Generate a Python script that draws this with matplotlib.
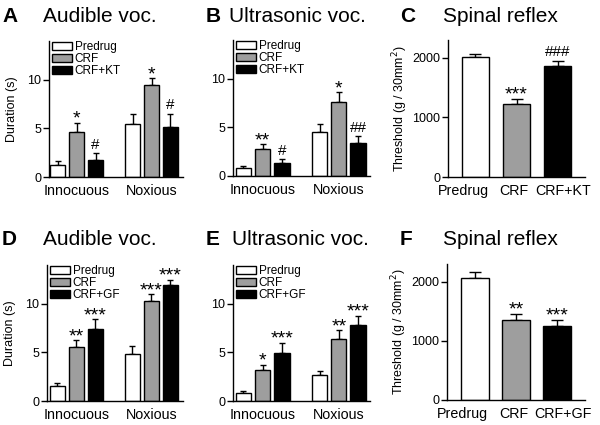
import numpy as np
import matplotlib
matplotlib.use("Agg")
import matplotlib.pyplot as plt
import matplotlib.transforms as mtransforms
from matplotlib.patches import Patch

plt.rcParams['font.family'] = ['Liberation Sans', 'DejaVu Sans']

# data
groups = ["Innocuous", "Noxious"]
colors = ["white", "#9e9e9e", "black"]

a_means = [[1.25, 4.6, 1.7], [5.45, 9.45, 5.1]]
a_errs = [[0.4, 1.0, 0.75], [1.05, 0.7, 1.4]]
a_marks = [["", "*", "#"], ["", "*", "#"]]

b_means = [[0.85, 2.75, 1.3], [4.55, 7.65, 3.42]]
b_errs = [[0.18, 0.5, 0.4], [0.85, 0.95, 0.7]]
b_marks = [["", "**", "#"], ["", "*", "##"]]

c_labels = ["Predrug", "CRF", "CRF+KT"]
c_means = [2010, 1230, 1860]
c_errs = [62, 85, 95]
c_marks = ["", "***", "###"]

d_means = [[1.55, 5.57, 7.42], [4.81, 10.3, 11.9]]
d_errs = [[0.27, 0.68, 1.0], [0.9, 0.7, 0.6]]
d_marks = [["", "**", "***"], ["", "***", "***"]]

e_means = [[0.85, 3.2, 4.98], [2.66, 6.42, 7.85]]
e_errs = [[0.2, 0.52, 1.0], [0.45, 0.85, 0.9]]
e_marks = [["", "*", "***"], ["", "**", "***"]]

f_labels = ["Predrug", "CRF", "CRF+GF"]
f_means = [2056, 1346, 1251]
f_errs = [113, 107, 101]
f_marks = ["", "**", "***"]

W, H = 600, 425


def px_axes(fig, left, right, bottom, top):
    return fig.add_axes([left / W, 1 - bottom / H, (right - left) / W, (bottom - top) / H])


def style_axes(ax):
    for s in ["top", "right"]:
        ax.spines[s].set_visible(False)
    for s in ["left", "bottom"]:
        ax.spines[s].set_linewidth(1.0)
    ax.tick_params(axis='y', direction='out', length=4, width=1.0, labelsize=9, pad=1.5)
    ax.tick_params(axis='x', length=0, labelsize=10.3, pad=5)


def put_mark(ax, x, y, text):
    if text == "":
        return
    if "*" in text:
        ax.annotate(text, (x, y), xytext=(0, -3.5), textcoords='offset points',
                    ha='center', va='bottom', fontsize=14)
    else:
        ax.annotate(text, (x, y), xytext=(0, 1), textcoords='offset points',
                    ha='center', va='bottom', fontsize=11)


def grouped_panel(ax, means, errs, marks, legend_names, xlim):
    offs = [-0.253, 0, 0.253]
    width = 0.2
    handles = []
    for g in range(len(groups)):
        for i in range(3):
            x = g + offs[i]
            ax.bar(x, means[g][i], width, color=colors[i], edgecolor='black', linewidth=1.0, zorder=2)
            ax.errorbar(x, means[g][i], yerr=[[0], [errs[g][i]]], fmt='none', ecolor='black',
                        elinewidth=1.0, capsize=2.5, capthick=1.0, zorder=1)
            put_mark(ax, x, means[g][i] + errs[g][i], marks[g][i])
    for i in range(3):
        handles.append(Patch(facecolor=colors[i], edgecolor='black', linewidth=1.0, label=legend_names[i]))
    ax.legend(handles=handles, loc='upper left', bbox_to_anchor=(0.025, 1.0), frameon=False,
              fontsize=8.5, handlelength=1.7, handleheight=0.6, handletextpad=0.18,
              labelspacing=0.0, borderpad=0.0, borderaxespad=0.0)
    ax.set_xticks(range(len(groups)))
    ax.set_xticklabels(groups)
    ax.set_xlim(xlim)
    ax.set_ylim(0, 14)
    ax.set_yticks([0, 5, 10])
    style_axes(ax)


def single_panel(ax, labels, means, errs, marks):
    x = np.arange(len(labels))
    ax.bar(x, means, 0.67, color=colors, edgecolor='black', linewidth=1.0, zorder=2)
    ax.errorbar(x, means, yerr=[np.zeros(len(errs)), errs], fmt='none', ecolor='black',
                elinewidth=1.0, capsize=4.5, capthick=1.0, zorder=1)
    for i in range(len(labels)):
        put_mark(ax, x[i], means[i] + errs[i], marks[i])
    ax.set_xticks(x)
    ax.set_xticklabels(labels)
    ax.set_xlim(-0.67, 2.67)
    ax.set_ylim(0, 2300)
    ax.set_yticks([0, 1000, 2000])
    ax.set_ylabel("Threshold (g / 30mm$^2$)", fontsize=9, labelpad=2)
    style_axes(ax)
    # labels are spread out sideways in the original so they do not touch
    shifts = [-12.5, -2.5, 5.5]
    for lab, dx in zip(ax.get_xticklabels(), shifts):
        lab.set_transform(lab.get_transform() + mtransforms.ScaledTranslation(dx / 100, 0, ax.figure.dpi_scale_trans))


fig = plt.figure(figsize=(6, 4.25), dpi=100)

ax_a = px_axes(fig, 49, 183, 177, 41)
grouped_panel(ax_a, a_means, a_errs, a_marks, ["Predrug", "CRF", "CRF+KT"], (-0.37, 1.42))
ax_a.set_ylabel("Duration (s)", fontsize=9, labelpad=7)

ax_b = px_axes(fig, 233, 370, 176, 40)
grouped_panel(ax_b, b_means, b_errs, b_marks, ["Predrug", "CRF", "CRF+KT"], (-0.39, 1.41))

ax_c = px_axes(fig, 448, 585, 177, 40)
single_panel(ax_c, c_labels, c_means, c_errs, c_marks)

ax_d = px_axes(fig, 47, 183, 401, 265)
grouped_panel(ax_d, d_means, d_errs, d_marks, ["Predrug", "CRF", "CRF+GF"], (-0.39, 1.42))
ax_d.set_ylabel("Duration (s)", fontsize=9, labelpad=7)

ax_e = px_axes(fig, 233, 370, 401, 265)
grouped_panel(ax_e, e_means, e_errs, e_marks, ["Predrug", "CRF", "CRF+GF"], (-0.39, 1.41))

ax_f = px_axes(fig, 447, 585, 400, 264)
single_panel(ax_f, f_labels, f_means, f_errs, f_marks)

# panel letters and titles
panel_text = [
    ("A", 2, 22, "Audible voc.", 43),
    ("B", 206, 22, "Ultrasonic voc.", 229),
    ("C", 400, 22, "Spinal reflex", 443),
    ("D", 2, 245, "Audible voc.", 43),
    ("E", 206, 245, "Ultrasonic voc.", 232),
    ("F", 400, 245, "Spinal reflex", 443),
]
for letter, lx, ly, title, tx in panel_text:
    fig.text(lx / W, 1 - ly / H, letter, fontsize=15, fontweight='bold', va='baseline', ha='left')
    fig.text(tx / W, 1 - ly / H, title, fontsize=15, va='baseline', ha='left')

fig.savefig("out.png", dpi=100)
